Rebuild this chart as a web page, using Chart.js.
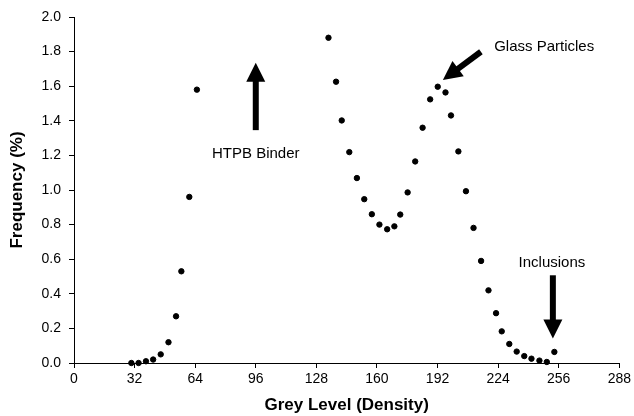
<!DOCTYPE html>
<html>
<head>
<meta charset="utf-8">
<script src="https://cdn.jsdelivr.net/npm/chart.js@4/dist/chart.umd.min.js"></script>
<style>
    html, body { margin: 0; padding: 0; background: #fff; }
    #wrap { width: 634px; height: 416px; position: relative; }
</style>
</head>
<body>
<div id="wrap"><canvas id="histChart"></canvas></div>
<script>
// grey level histogram
const greyLevel = [30.3, 34.1, 38, 41.8, 45.8, 49.9, 53.9, 56.7, 60.9, 64.9,
    134.4, 138.4, 141.4, 145.4, 149.4, 153.3, 157.3, 161.3, 165.4, 169.2,
    172.3, 176.2, 180.2, 184.1, 188.1, 192.1, 196.2, 199.1, 203, 207, 211,
    215, 218.9, 222.9, 225.9, 229.9, 233.8, 237.8, 241.6, 245.8, 249.7, 253.7];
const frequency = [0.00, 0.00, 0.01, 0.02, 0.05, 0.12, 0.27, 0.53, 0.96, 1.58,
    1.88, 1.626, 1.402, 1.219, 1.069, 0.947, 0.860, 0.80, 0.773, 0.79,
    0.858, 0.986, 1.165, 1.36, 1.524, 1.597, 1.564, 1.431, 1.223, 0.993, 0.781,
    0.59, 0.42, 0.288, 0.183, 0.11, 0.066, 0.04, 0.025, 0.014, 0.006, 0.064];

const xTicks = [0, 32, 64, 96, 128, 160, 192, 224, 256, 288];
const yTicks = [0, 0.2, 0.4, 0.6, 0.8, 1.0, 1.2, 1.4, 1.6, 1.8, 2.0];

// labels + arrows, in data units: [x, y]
const notes = [
    { text: 'HTPB Binder', at: [96, 1.207], align: 'center', from: [96, 1.346], to: [96, 1.736] },
    { text: 'Glass Particles', at: [221.9, 1.828], align: 'left', from: [214.9, 1.799], to: [194.8, 1.636] },
    { text: 'Inclusions', at: [252.4, 0.581], align: 'center', from: [252.9, 0.507], to: [252.9, 0.141] }
];

const FONT = '"Liberation Sans", Arial, sans-serif';

function drawArrow(ctx, x1, y1, x2, y2) {
    const ang = Math.atan2(y2 - y1, x2 - x1);
    const headLen = 19, headW = 9.5;
    const bx = x2 - Math.cos(ang) * headLen;
    const by = y2 - Math.sin(ang) * headLen;
    ctx.beginPath();
    ctx.moveTo(x1, y1);
    ctx.lineTo(bx + Math.cos(ang) * 2, by + Math.sin(ang) * 2);
    ctx.lineWidth = 6;
    ctx.strokeStyle = '#000';
    ctx.stroke();
    ctx.beginPath();
    ctx.moveTo(x2, y2);
    ctx.lineTo(bx + Math.sin(ang) * headW, by - Math.cos(ang) * headW);
    ctx.lineTo(bx - Math.sin(ang) * headW, by + Math.cos(ang) * headW);
    ctx.closePath();
    ctx.fillStyle = '#000';
    ctx.fill();
}

const notesPlugin = {
    id: 'notes',
    afterDraw(chart) {
        const ctx = chart.ctx;
        const xs = chart.scales.x, ys = chart.scales.y;
        ctx.save();
        ctx.font = '15px ' + FONT;
        ctx.fillStyle = '#000';
        ctx.textBaseline = 'middle';
        notes.forEach(n => {
            ctx.textAlign = n.align;
            ctx.fillText(n.text, xs.getPixelForValue(n.at[0]), ys.getPixelForValue(n.at[1]));
            drawArrow(ctx,
                xs.getPixelForValue(n.from[0]), ys.getPixelForValue(n.from[1]),
                xs.getPixelForValue(n.to[0]), ys.getPixelForValue(n.to[1]));
        });
        ctx.restore();
    }
};

const points = greyLevel.map((g, i) => ({ x: g, y: frequency[i] }));

new Chart(document.getElementById('histChart'), {
    type: 'scatter',
    data: {
        datasets: [{
            data: points,
            backgroundColor: '#000',
            borderColor: '#000',
            pointRadius: 2.7,
            pointHoverRadius: 2.7,
            clip: false
        }]
    },
    options: {
        responsive: true,
        maintainAspectRatio: false,
        animation: false,
        events: [],
        layout: { padding: { top: 17, right: 11, left: 0, bottom: 0 } },
        plugins: {
            legend: { display: false },
            tooltip: { enabled: false }
        },
        scales: {
            x: {
                type: 'linear',
                min: 0,
                max: 288,
                afterBuildTicks: s => { s.ticks = xTicks.map(v => ({ value: v })); },
                afterFit: s => { s.height = 53; },
                ticks: { color: '#000', font: { family: FONT, size: 14 }, padding: 3, maxRotation: 0 },
                grid: { drawOnChartArea: false, drawTicks: true, tickLength: 5, color: '#000' },
                border: { display: true, color: '#000', width: 1 },
                title: {
                    display: true,
                    text: 'Grey Level (Density)',
                    color: '#000',
                    font: { family: FONT, size: 17, weight: 'bold' },
                    padding: { top: 4, bottom: 0 }
                }
            },
            y: {
                min: 0,
                max: 2,
                afterBuildTicks: s => { s.ticks = yTicks.map(v => ({ value: v })); },
                afterFit: s => { s.width = 74; },
                ticks: {
                    color: '#000',
                    font: { family: FONT, size: 14 },
                    padding: 8,
                    callback: v => Number(v).toFixed(1)
                },
                grid: { drawOnChartArea: false, drawTicks: true, tickLength: 5, color: '#000' },
                border: { display: true, color: '#000', width: 1 },
                title: {
                    display: true,
                    text: 'Frequency (%)',
                    color: '#000',
                    font: { family: FONT, size: 17, weight: 'bold' },
                    padding: { top: 7, bottom: 6 }
                }
            }
        }
    },
    plugins: [notesPlugin]
});
</script>
</body>
</html>
